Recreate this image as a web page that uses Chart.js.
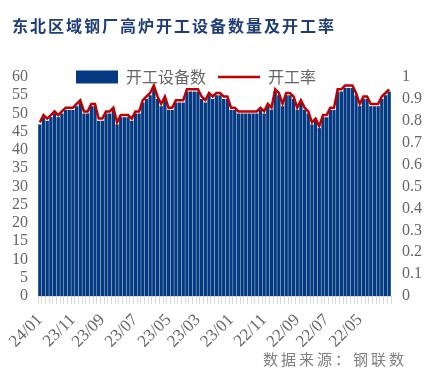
<!DOCTYPE html>
<html>
<head>
<meta charset="utf-8">
<script src="https://cdn.jsdelivr.net/npm/chart.js@4.4.1/dist/chart.umd.min.js"></script>
<style>
  html, body { margin: 0; padding: 0; background: #fff; }
  #wrap { position: relative; width: 433px; height: 383px; }
  #chart { position: absolute; left: 0; top: 0; }
  #title {
    position: absolute; left: 12px; top: 13px; white-space: nowrap;
    font: bold 16px "Noto Sans CJK SC"; letter-spacing: 2px; color: #1f3d7a;
  }
  #source {
    position: absolute; left: 263px; top: 348px; white-space: nowrap;
    font: 15px "Noto Sans CJK SC"; letter-spacing: 3px; color: #808080;
  }
</style>
</head>
<body>
<div id="wrap">
  <canvas id="chart" width="433" height="383"></canvas>
  <div id="title">东北区域钢厂高炉开工设备数量及开工率</div>
  <div id="source">数据来源：钢联数</div>
</div>
<script>
// weekly, newest (24/01) on the left
const counts = [
  47, 49, 48, 49, 50, 49, 50, 51, 51, 51,
  52, 53, 50, 50, 52, 52, 48, 48, 50, 50,
  51, 47, 49, 49, 49, 48, 50, 50, 53, 54,
  55, 57, 54, 52, 54, 51, 51, 53, 53, 53,
  56, 56, 56, 56, 54, 53, 55, 54, 55, 55,
  54, 54, 51, 51, 50, 50, 50, 50, 50, 50,
  51, 50, 52, 51, 56, 55, 52, 55, 55, 54,
  51, 53, 51, 50, 47, 48, 46, 49, 49, 51,
  51, 56, 56, 57, 57, 57, 55, 52, 54, 54,
  52, 52, 52, 54, 55, 56
];
const rates = [
  0.793, 0.826, 0.810, 0.826, 0.843, 0.826, 0.843, 0.860, 0.860, 0.860,
  0.877, 0.894, 0.843, 0.843, 0.877, 0.877, 0.810, 0.810, 0.843, 0.843,
  0.860, 0.793, 0.826, 0.826, 0.826, 0.810, 0.843, 0.843, 0.894, 0.911,
  0.927, 0.961, 0.911, 0.877, 0.911, 0.860, 0.860, 0.894, 0.894, 0.894,
  0.944, 0.944, 0.944, 0.944, 0.911, 0.894, 0.927, 0.911, 0.927, 0.927,
  0.911, 0.911, 0.860, 0.860, 0.843, 0.843, 0.843, 0.843, 0.843, 0.843,
  0.860, 0.843, 0.877, 0.860, 0.944, 0.927, 0.877, 0.927, 0.927, 0.911,
  0.860, 0.894, 0.860, 0.843, 0.793, 0.810, 0.776, 0.826, 0.826, 0.860,
  0.860, 0.944, 0.944, 0.961, 0.961, 0.961, 0.927, 0.877, 0.911, 0.911,
  0.877, 0.877, 0.877, 0.911, 0.927, 0.944
];
const tickLabels = ['24/01', '23/11', '23/09', '23/07', '23/05', '23/03', '23/01', '22/11', '22/09', '22/07', '22/05'];
const tickIdx = [0, 9, 17, 26, 35, 43, 52, 61, 70, 78, 87];

const categories = counts.map((_, i) => {
  const k = tickIdx.indexOf(i);
  return k >= 0 ? tickLabels[k] : '';
});

const axisFont = { family: 'Liberation Serif', size: 16 };
const grey = '#666666';

// legend takes no room in the layout; then move it over the plot, like the original
const legendPlace = {
  id: 'legendPlace',
  afterLayout(chart) {
    const lg = chart.legend;
    lg.left = 64;
    lg.right = 433;
    lg.width = lg.right - lg.left;
    lg.top = chart.chartArea.top - 20;
    lg.bottom = lg.top + 40;
    lg.height = 40;
  }
};

new Chart(document.getElementById('chart').getContext('2d'), {
  type: 'bar',
  data: {
    labels: categories,
    datasets: [
      {
        label: '开工设备数',
        data: counts,
        backgroundColor: '#033a82',
        borderWidth: 0,
        barPercentage: 1,
        categoryPercentage: 0.9,
        pointStyle: 'rect',
        yAxisID: 'y',
        order: 1
      },
      {
        type: 'line',
        label: '开工率',
        data: rates,
        borderColor: '#c00000',
        backgroundColor: '#c00000',
        borderWidth: 2.5,
        pointRadius: 0,
        tension: 0,
        fill: false,
        pointStyle: 'line',
        yAxisID: 'y1',
        order: 0
      }
    ]
  },
  options: {
    responsive: false,
    animation: false,
    layout: { padding: { top: 76, left: 0, right: 0, bottom: 0 } },
    plugins: {
      tooltip: { enabled: false },
      legend: {
        position: 'top',
        align: 'start',
        maxHeight: 1,
        labels: {
          usePointStyle: true,
          pointStyleWidth: 42,
          boxHeight: 13,
          padding: 12,
          color: grey,
          font: { family: 'Noto Sans CJK SC', size: 16 },
          sort: (a, b) => a.datasetIndex - b.datasetIndex
        }
      }
    },
    scales: {
      x: {
        offset: true,
        grid: { display: true, drawOnChartArea: false, drawTicks: true, tickLength: 8, color: '#d9d9d9', offset: true },
        border: { display: true, color: '#d9d9d9' },
        ticks: {
          autoSkip: false, minRotation: 45, maxRotation: 45, padding: 6,
          color: grey, font: { family: 'Liberation Serif', size: 17 }
        },
        afterFit(scale) { scale.height = 87; }
      },
      y: {
        position: 'left',
        min: 0, max: 60,
        grid: { display: false, drawTicks: false },
        border: { display: false },
        ticks: { stepSize: 5, autoSkip: false, padding: 10, color: grey, font: axisFont },
        afterFit(scale) { scale.width = 38; }
      },
      y1: {
        position: 'right',
        min: 0, max: 1,
        grid: { display: false, drawTicks: false },
        border: { display: false },
        ticks: {
          stepSize: 0.1, autoSkip: false, padding: 11, color: grey, font: axisFont,
          callback: (v) => String(Math.round(v * 10) / 10)
        },
        afterFit(scale) { scale.width = 42; }
      }
    }
  },
  plugins: [legendPlace]
});
</script>
</body>
</html>
